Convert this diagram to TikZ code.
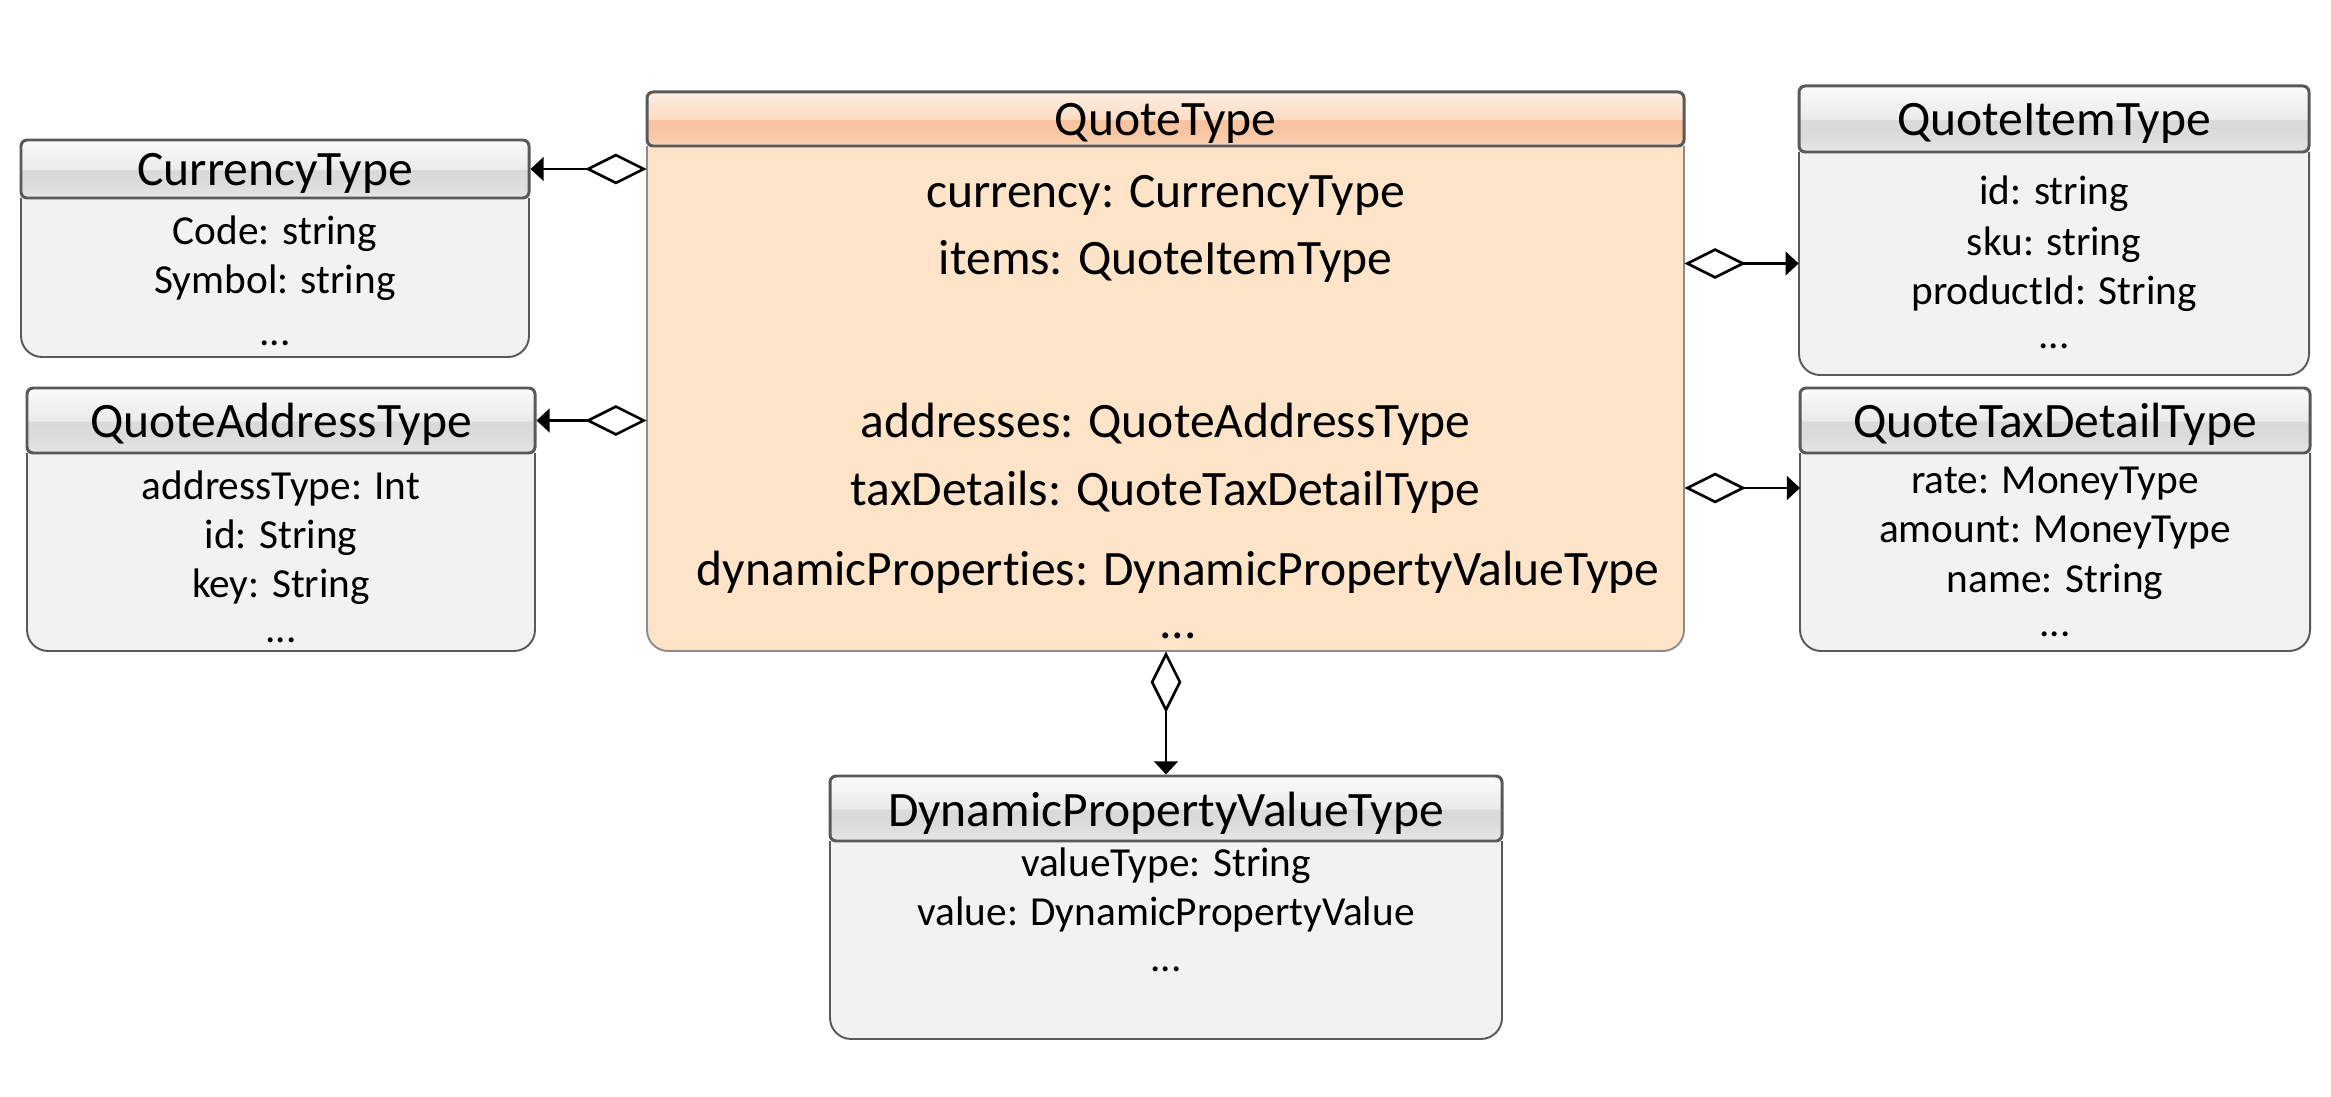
\documentclass[tikz,border=0pt]{standalone}
\usepackage{fontspec}
\setmainfont{Carlito}[Ligatures={NoCommon}]
\usetikzlibrary{arrows.meta,fit}
\definecolor{bodyg}{HTML}{F2F2F2}
\definecolor{bodyo}{HTML}{FDE4C9}
\definecolor{lineg}{HTML}{595959}
\definecolor{lineo}{HTML}{8C8C8C}
\definecolor{gh0}{HTML}{FAFAFA}
\definecolor{gh1}{HTML}{EBEBEB}
\definecolor{gh2}{HTML}{D9D9D9}
\definecolor{gh3}{HTML}{DCDCDC}
\definecolor{gh4}{HTML}{E6E6E6}
\definecolor{oh0}{HTML}{FDEEE2}
\definecolor{oh1}{HTML}{FBDCC4}
\definecolor{oh2}{HTML}{F8C29E}
\definecolor{oh3}{HTML}{F8C6A3}
\definecolor{oh4}{HTML}{FAD3B6}
\pgfdeclareverticalshading{grayhead}{100bp}{color(0bp)=(gh4); color(25bp)=(gh4); color(37bp)=(gh3); color(49bp)=(gh2); color(50bp)=(gh1); color(75bp)=(gh0); color(100bp)=(gh0)}
\pgfdeclareverticalshading{orangehead}{100bp}{color(0bp)=(oh4); color(25bp)=(oh4); color(37bp)=(oh3); color(49bp)=(oh2); color(50bp)=(oh1); color(75bp)=(oh0); color(100bp)=(oh0)}
\tikzset{
  bodygray/.style={fill=bodyg, draw=lineg, line width=1.1pt},
  bodyorange/.style={fill=bodyo, draw=lineo, line width=1.1pt},
  hdrgray/.style={shade, shading=grayhead, draw=lineg, line width=1.7pt, rounded corners=3.5pt, inner sep=0pt},
  hdrorange/.style={shade, shading=orangehead, draw=lineg, line width=1.7pt, rounded corners=3.5pt, inner sep=0pt},
  boxfit/.style={inner sep=0pt, draw=none},
  big/.style={font=\fontsize{28.2}{34}\selectfont, anchor=base, inner sep=0pt, yshift=-2.6pt},
  small/.style={font=\fontsize{23.5}{28}\selectfont, anchor=base, inner sep=0pt, yshift=-2.6pt},
  assoc/.style={line width=1.5pt, {Diamond[open,length=35pt,width=17.5pt]}-{Triangle[length=7.5pt,width=13.5pt]}}
}
\newcommand\umlbody[5]{\path[#1] (#2,#3) [rounded corners=12pt] -- (#2,#5) -- (#4,#5) -- (#4,#3);}
\begin{document}
\begin{tikzpicture}[x=0.02cm,y=-0.02cm]
\useasboundingbox (0,0) rectangle (2331,1097);
% CurrencyType
\umlbody{bodygray}{21}{198}{529}{357}
\node[boxfit, fit={(21,140)(529,357)}] (cur) {};
\node[hdrgray, fit={(21,140)(529,198)}] (curh) {};
\node[big] (curt) at (275,181) {CurrencyType};
\node[small] (cur1) at (275,240) {Code: string};
\node[small] (cur2) at (275,289) {Symbol: string};
\node[small] (cur3) at (275,341) {...};
% QuoteAddressType
\umlbody{bodygray}{27}{453}{535}{651}
\node[boxfit, fit={(27,388)(535,651)}] (adr) {};
\node[hdrgray, fit={(27,388)(535,453)}] (adrh) {};
\node[big] (adrt) at (281,433) {QuoteAddressType};
\node[small] (adr1) at (281,495) {addressType: Int};
\node[small] (adr2) at (281,544) {id: String};
\node[small] (adr3) at (281,593) {key: String};
\node[small] (adr4) at (281,638) {...};
% QuoteType
\umlbody{bodyorange}{647}{146}{1684}{651}
\node[boxfit, fit={(647,92)(1684,651)}] (qt) {};
\node[hdrorange, fit={(647,92)(1684,146)}] (qth) {};
\node[big] (qtt) at (1165.5,131) {QuoteType};
\node[big] (qt1) at (1165.5,203) {currency: CurrencyType};
\node[big] (qt2) at (1165.5,270) {items: QuoteItemType};
\node[big] (qt3) at (1165.5,433) {addresses: QuoteAddressType};
\node[big] (qt4) at (1165.5,501) {taxDetails: QuoteTaxDetailType};
\node[big] (qt5) at (1178,581) {dynamicProperties: DynamicPropertyValueType};
\node[big] (qt6) at (1178,634) {...};
% QuoteItemType
\umlbody{bodygray}{1799}{152}{2309}{375}
\node[boxfit, fit={(1799,152)(2309,375)}] (itb) {};
\node[hdrgray, fit={(1799,86)(2309,152)}] (ith) {};
\node[big] (itt) at (2054,131) {QuoteItemType};
\node[small] (it1) at (2054,200) {id: string};
\node[small] (it2) at (2054,251) {sku: string};
\node[small] (it3) at (2054,300) {productId: String};
\node[small] (it4) at (2054,344) {...};
% QuoteTaxDetailType
\umlbody{bodygray}{1800}{453}{2310}{651}
\node[boxfit, fit={(1800,388)(2310,651)}] (tx) {};
\node[hdrgray, fit={(1800,388)(2310,453)}] (txh) {};
\node[big] (txt) at (2055,433) {QuoteTaxDetailType};
\node[small] (tx1) at (2055,489) {rate: MoneyType};
\node[small] (tx2) at (2055,538) {amount: MoneyType};
\node[small] (tx3) at (2055,588) {name: String};
\node[small] (tx4) at (2055,632) {...};
\coordinate (txc) at (1800,488);
% DynamicPropertyValueType
\umlbody{bodygray}{830}{841}{1502}{1039}
\node[boxfit, fit={(830,776)(1502,1039)}] (dp) {};
\node[hdrgray, fit={(830,776)(1502,841)}] (dph) {};
\node[big] (dpt) at (1166,822) {DynamicPropertyValueType};
\node[small] (dp1) at (1166,872) {valueType: String};
\node[small] (dp2) at (1166,921) {value: DynamicPropertyValue};
\node[small] (dp3) at (1166,967) {...};
% connectors
\draw[assoc] (qt.west |- curh.east) -- (curh.east);
\draw[assoc] (qt.west |- adrh.east) -- (adrh.east);
\draw[assoc] (qt.east |- itb.west) -- (itb.west);
\draw[assoc] (qt.east |- txc) -- (txc);
\draw[assoc] (qt.south -| dph.north) -- (dph.north);
\end{tikzpicture}
\end{document}
